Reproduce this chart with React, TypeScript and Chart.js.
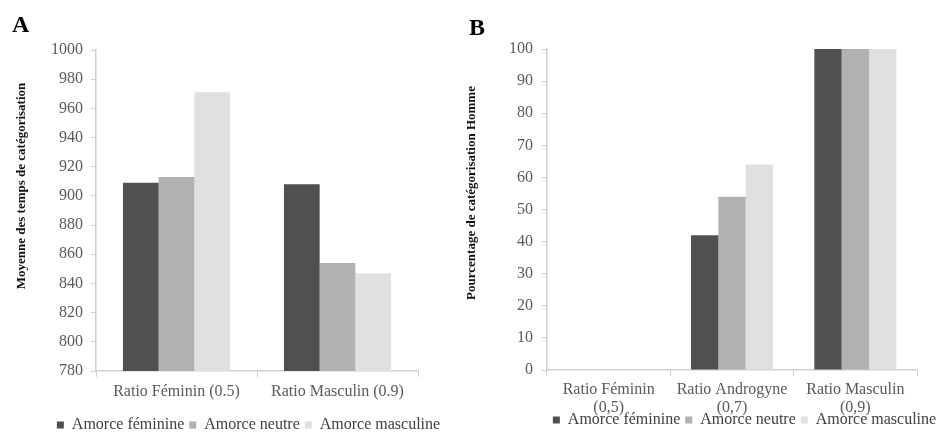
import React, { useEffect, useRef } from "react";
import { Chart, registerables } from "chart.js";

Chart.register(...registerables);

// ---------- data ----------
const seriesNames = ["Amorce féminine", "Amorce neutre", "Amorce masculine"];
const seriesColors = ["#505050", "#b1b1b1", "#e0e0e0"];

const categoriesA = ["Ratio Féminin (0.5)", "Ratio Masculin (0.9)"];
const feminineA = [909, 908];
const neutralA = [913, 854];
const masculineA = [971, 847];
const yTitleA = "Moyenne des temps de catégorisation";
const yMinA = 780;
const yMaxA = 1000;
const yStepA = 20;

const categoriesB = [
  ["Ratio Féminin", "(0,5)"],
  ["Ratio Androgyne", "(0,7)"],
  ["Ratio Masculin", "(0,9)"],
];
const feminineB = [0, 42, 100];
const neutralB = [0, 54, 100];
const masculineB = [0, 64, 100];
const yTitleB = "Pourcentage de catégorisation Homme";
const yMinB = 0;
const yMaxB = 100;
const yStepB = 10;

// ---------- styling ----------
const SERIF = "'Liberation Serif', 'Times New Roman', serif";
const TICK_COLOR = "#595959";
const AXIS_COLOR = "#cfcfcf";

const annotate = {
  id: "annotate",
  afterDraw(chart: any, _args: any, opts: any) {
    const ctx = chart.ctx;
    ctx.save();
    if (opts.letter) {
      ctx.font = `bold 24px ${SERIF}`;
      ctx.fillStyle = "#000";
      ctx.textAlign = "left";
      ctx.textBaseline = "alphabetic";
      ctx.fillText(opts.letter, opts.letterX, opts.letterY);
    }
    if (opts.yTitle) {
      ctx.translate(opts.yTitleX, opts.yTitleY);
      ctx.rotate(-Math.PI / 2);
      ctx.font = `bold 13px ${SERIF}`;
      ctx.fillStyle = "#111";
      ctx.textAlign = "center";
      ctx.textBaseline = "middle";
      ctx.fillText(opts.yTitle, 0, 0);
    }
    ctx.restore();
  },
};

type PanelSpec = {
  labels: any[];
  values: number[][];
  yMin: number;
  yMax: number;
  yStep: number;
  padTop: number;
  padLeft: number;
  yWidth: number;
  spacerWidth: number;
  xHeight: number;
  xPad: number;
  xMirror: boolean;
  yPad: number;
  letter: string;
  letterX: number;
  letterY: number;
  yTitle: string;
  yTitleX: number;
  yTitleY: number;
};

function buildConfig(p: PanelSpec): any {
  return {
    type: "bar",
    data: {
      labels: p.labels,
      datasets: seriesNames.map((name, i) => ({
        label: name,
        data: p.values[i],
        backgroundColor: seriesColors[i],
        borderWidth: 0,
        categoryPercentage: 0.665,
        barPercentage: 1.0,
      })),
    },
    plugins: [annotate],
    options: {
      responsive: false,
      animation: false,
      events: [],
      layout: { padding: { top: p.padTop, left: p.padLeft, right: 0, bottom: 0 } },
      plugins: {
        tooltip: { enabled: false },
        title: { display: false },
        legend: {
          display: true,
          position: "bottom",
          align: "center",
          labels: {
            boxWidth: 7,
            boxHeight: 7,
            padding: 5,
            color: "#404040",
            font: { family: SERIF, size: 16 },
          },
        },
        annotate: {
          letter: p.letter,
          letterX: p.letterX,
          letterY: p.letterY,
          yTitle: p.yTitle,
          yTitleX: p.yTitleX,
          yTitleY: p.yTitleY,
        },
      },
      scales: {
        x: {
          grid: {
            display: true,
            drawOnChartArea: false,
            drawTicks: true,
            tickLength: 6,
            color: AXIS_COLOR,
          },
          border: { display: true, color: AXIS_COLOR, width: 1.5 },
          ticks: {
            color: TICK_COLOR,
            padding: p.xPad,
            mirror: p.xMirror,
            maxRotation: 0,
            autoSkip: false,
            font: { family: SERIF, size: 16, lineHeight: 1.1 },
          },
          afterFit: (s: any) => {
            s.height = p.xHeight;
          },
        },
        y: {
          min: p.yMin,
          max: p.yMax,
          grid: {
            display: true,
            drawOnChartArea: false,
            drawTicks: true,
            tickLength: 5,
            color: AXIS_COLOR,
          },
          border: { display: true, color: AXIS_COLOR, width: 1.5 },
          ticks: {
            stepSize: p.yStep,
            color: TICK_COLOR,
            padding: p.yPad,
            font: { family: SERIF, size: 16 },
            callback: (v: any) => String(v),
          },
          afterFit: (s: any) => {
            s.width = p.yWidth;
          },
        },
        spacer: {
          type: "linear",
          position: "right",
          display: true,
          grid: { display: false, drawTicks: false },
          border: { display: false },
          ticks: { display: false },
          afterFit: (s: any) => {
            s.width = p.spacerWidth;
          },
        },
      },
    },
  };
}

function Panel({
  left,
  width,
  height,
  spec,
}: {
  left: number;
  width: number;
  height: number;
  spec: PanelSpec;
}) {
  const ref = useRef<HTMLCanvasElement | null>(null);
  useEffect(() => {
    if (!ref.current) return;
    const chart = new Chart(ref.current, buildConfig(spec));
    return () => chart.destroy();
  }, []);
  return (
    <canvas
      ref={ref}
      width={width}
      height={height}
      style={{ position: "absolute", left, top: 0, width, height, display: "block" }}
    />
  );
}

const specA: PanelSpec = {
  labels: categoriesA,
  values: [feminineA, neutralA, masculineA],
  yMin: yMinA,
  yMax: yMaxA,
  yStep: yStepA,
  padTop: 50,
  padLeft: 40,
  yWidth: 56,
  spacerWidth: 39,
  xHeight: 41,
  xPad: 6,
  xMirror: false,
  yPad: 8,
  letter: "A",
  letterX: 12,
  letterY: 32,
  yTitle: yTitleA,
  yTitleX: 22,
  yTitleY: 186,
};

const specB: PanelSpec = {
  labels: categoriesB,
  values: [feminineB, neutralB, masculineB],
  yMin: yMinB,
  yMax: yMaxB,
  yStep: yStepB,
  padTop: 49,
  padLeft: 42,
  yWidth: 40,
  spacerWidth: 65,
  xHeight: 37,
  xPad: -29,
  xMirror: true,
  yPad: 9,
  letter: "B",
  letterX: 4,
  letterY: 35,
  yTitle: yTitleB,
  yTitleX: 7,
  yTitleY: 193,
};

export default function App() {
  return (
    <div
      style={{
        position: "absolute",
        left: 0,
        top: 0,
        width: 940,
        height: 432,
        overflow: "hidden",
        background: "#fff",
      }}
    >
      <Panel left={0} width={457} height={443} spec={specA} />
      <Panel left={465} width={517} height={438} spec={specB} />
    </div>
  );
}
